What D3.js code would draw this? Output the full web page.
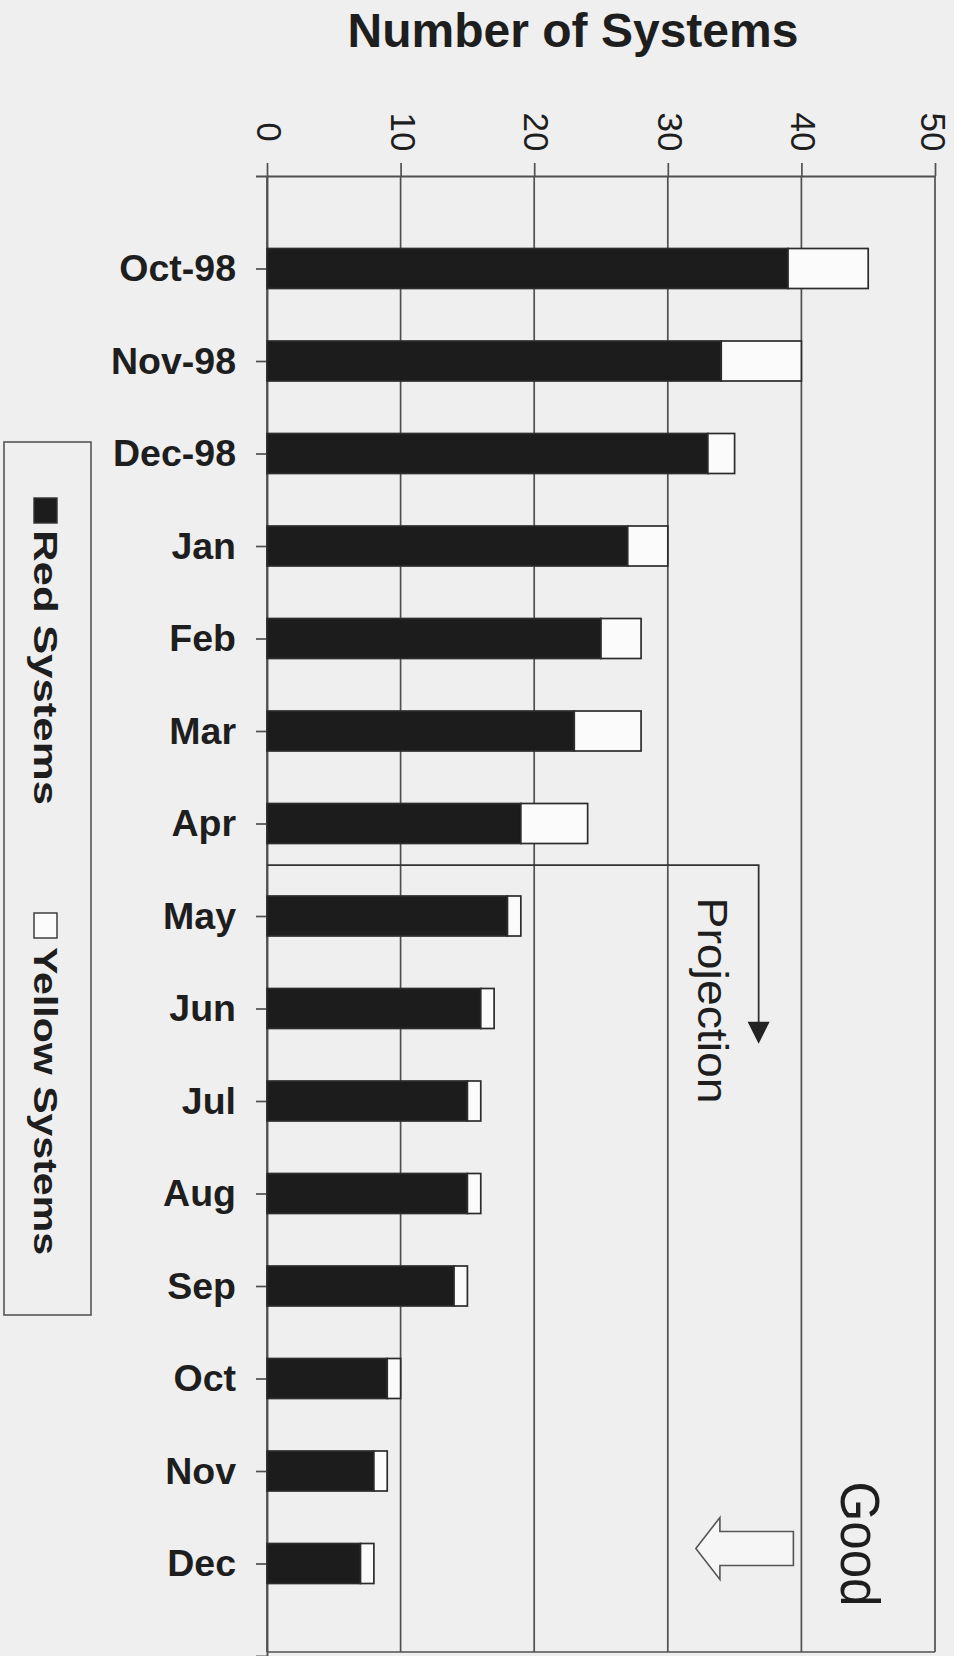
<!DOCTYPE html>
<html>
<head>
<meta charset="utf-8">
<script src="https://cdn.jsdelivr.net/npm/d3@7"></script>
<style>
  html, body { margin: 0; padding: 0; background: #efefef; }
  svg { display: block; }
  text { font-family: "Liberation Sans", Arial, Helvetica, sans-serif; fill: #1e1e1e; }
</style>
</head>
<body>
<svg id="chart" width="954" height="1656"></svg>
<script>
// ---- data ----
const categories = ["Oct-98","Nov-98","Dec-98","Jan","Feb","Mar","Apr","May","Jun","Jul","Aug","Sep","Oct","Nov","Dec"];
const redSystems = [39,34,33,27,25,23,19,18,16,15,15,14,9,8,7];
const yellowSystems = [6,6,2,3,3,5,5,1,1,1,1,1,1,1,1];
const xTicks = [0,10,20,30,40,50];
const seriesNames = ["Red Systems","Yellow Systems"];

// ---- layout ----
const W = 954, H = 1656;
const plot = { left: 267, right: 935, top: 176, bottom: 1656, gridBottom: 1652 };
const ink = "#1e1e1e";
const gridColor = "#505050";

const svg = d3.select("#chart");
svg.append("rect").attr("width", W).attr("height", H).attr("fill", "#efefef");

const x = d3.scaleLinear().domain([0, 50]).range([plot.left, plot.right]);
const y = d3.scalePoint().domain(categories).range([plot.top, plot.bottom]).padding(1);
const step = y.step();
const barH = 40;

// ---- gridlines ----
svg.append("g").selectAll("line").data(xTicks).join("line")
  .attr("x1", d => x(d)).attr("x2", d => x(d))
  .attr("y1", plot.top).attr("y2", plot.gridBottom)
  .attr("stroke", gridColor).attr("stroke-width", 1.7);
svg.append("line")
  .attr("x1", plot.left).attr("x2", plot.right)
  .attr("y1", plot.gridBottom).attr("y2", plot.gridBottom)
  .attr("stroke", gridColor).attr("stroke-width", 1.7);

// ---- top axis ----
const topAxis = svg.append("g")
  .attr("transform", `translate(0,${plot.top})`)
  .call(d3.axisTop(x).tickValues(xTicks).tickSize(13).tickSizeOuter(0));
topAxis.select(".domain").attr("stroke", gridColor).attr("stroke-width", 1.9);
topAxis.selectAll(".tick line").attr("stroke", gridColor).attr("stroke-width", 1.7);
topAxis.selectAll(".tick text")
  .attr("y", 0).attr("dy", "0.3em")
  .attr("transform", d => `translate(${d === 50 ? -4 : 0},-44) rotate(90)`)
  .attr("text-anchor", "middle")
  .style("font-size", "35px")
  .style("font-family", "'Liberation Sans', Arial, sans-serif")
  .attr("fill", ink);

// ---- left axis ----
const leftAxis = svg.append("g")
  .attr("transform", `translate(${plot.left},0)`)
  .call(d3.axisLeft(y).tickSize(11).tickSizeOuter(11).tickPadding(20));
leftAxis.select(".domain").attr("stroke", gridColor).attr("stroke-width", 1.9);
leftAxis.selectAll(".tick line").attr("stroke", gridColor).attr("stroke-width", 1.7);
leftAxis.selectAll(".tick text")
  .style("font-size", "37.5px").style("font-weight", "bold")
  .style("font-family", "'Liberation Sans', Arial, sans-serif")
  .attr("fill", "#2a2a2a");

// ---- stacked bars ----
const rows = categories.map((c, i) => ({ cat: c, red: redSystems[i], yellow: yellowSystems[i] }));
const stack = d3.stack().keys(["red", "yellow"])(rows);
const fills = { red: "#1c1c1c", yellow: "#fbfbfb" };
svg.append("g").selectAll("g").data(stack).join("g")
  .attr("fill", d => fills[d.key])
  .attr("stroke", "#2c2c2c").attr("stroke-width", 1.7)
  .selectAll("rect").data(d => d).join("rect")
    .attr("x", d => x(d[0]))
    .attr("width", d => x(d[1]) - x(d[0]))
    .attr("y", d => y(d.data.cat) - barH / 2)
    .attr("height", barH);

// ---- projection bracket ----
const projY = y("Apr") + 0.45 * step;
const projX = x(36.8);
const tipY = y("Jun") + 0.38 * step;
svg.append("path")
  .attr("d", `M${x(0)},${projY} H${projX} V${tipY - 18}`)
  .attr("fill", "none").attr("stroke", "#333").attr("stroke-width", 1.8);
svg.append("path")
  .attr("d", `M${projX - 11},${tipY - 22} L${projX + 11},${tipY - 22} L${projX},${tipY} Z`)
  .attr("fill", "#222");
svg.append("text")
  .attr("transform", `translate(${x(33.4)},${y("Apr") + 0.8 * step}) rotate(90)`)
  .attr("dy", "0.35em")
  .attr("textLength", 206).attr("lengthAdjust", "spacingAndGlyphs")
  .style("font-size", "43px")
  .text("Projection");

// ---- "Good" arrow ----
const gy = y("Dec") - 15;
const tipX = x(32.1), headX = x(33.9), tailX = x(39.4);
svg.append("path")
  .attr("d", `M${tipX},${gy} L${headX},${gy - 31} L${headX},${gy - 17} L${tailX},${gy - 17} L${tailX},${gy + 17} L${headX},${gy + 17} L${headX},${gy + 31} Z`)
  .attr("fill", "#f6f6f6").attr("stroke", "#555").attr("stroke-width", 1.6);
svg.append("text")
  .attr("transform", `translate(${x(44.4)},${y("Dec") - 82}) rotate(90)`)
  .attr("dy", "0.35em")
  .attr("textLength", 125).attr("lengthAdjust", "spacingAndGlyphs")
  .style("font-size", "56px")
  .text("Good");

// ---- title ----
svg.append("text")
  .attr("x", 573).attr("y", 47)
  .attr("text-anchor", "middle")
  .style("font-size", "48px").style("font-weight", "bold")
  .attr("fill", "#222")
  .text("Number of Systems");

// ---- legend ----
const legend = svg.append("g");
legend.append("rect")
  .attr("x", 4).attr("y", 442).attr("width", 87).attr("height", 873)
  .attr("fill", "none").attr("stroke", "#555").attr("stroke-width", 1.6);
const legendItems = [
  { name: seriesNames[0], fill: fills.red, sqY: 498, textY: 530, len: 275 },
  { name: seriesNames[1], fill: fills.yellow, sqY: 913, textY: 947, len: 308 }
];
legend.selectAll("rect.sw").data(legendItems).join("rect")
  .attr("class", "sw")
  .attr("x", 34).attr("y", d => d.sqY).attr("width", 23).attr("height", 25)
  .attr("fill", d => d.fill).attr("stroke", "#333").attr("stroke-width", 1.4);
legend.selectAll("text").data(legendItems).join("text")
  .attr("transform", d => `translate(46,${d.textY}) rotate(90)`)
  .attr("dy", "0.35em")
  .attr("textLength", d => d.len).attr("lengthAdjust", "spacingAndGlyphs")
  .style("font-size", "34px").style("font-weight", "bold")
  .attr("fill", "#2a2a2a")
  .text(d => d.name);
</script>
</body>
</html>
